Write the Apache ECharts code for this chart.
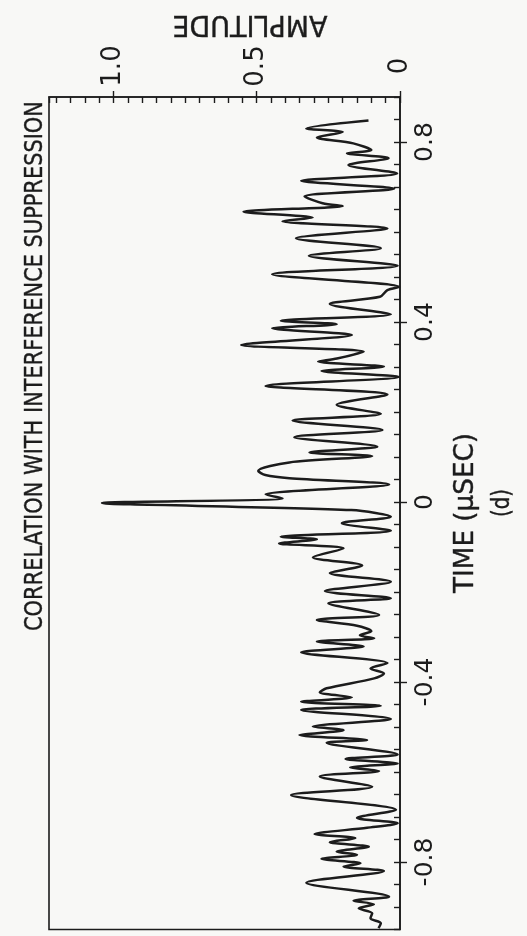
<!DOCTYPE html>
<html><head><meta charset="utf-8">
<script src="https://cdn.jsdelivr.net/npm/echarts@6/dist/echarts.min.js"></script>
<style>html,body{margin:0;padding:0;background:#f8f8f6;} #c{width:527px;height:936px;}</style>
</head><body><div id="c"></div>
<script>
// Time (µs), running from top of trace to bottom
const timeValues = [
  0.848, 0.830, 0.822, 0.810, 0.797, 0.782, 0.775, 0.764, 0.749, 0.730,
  0.714, 0.696, 0.679, 0.664, 0.658, 0.645, 0.632, 0.624, 0.608, 0.586,
  0.564, 0.547, 0.525, 0.506, 0.478, 0.471, 0.456, 0.440, 0.417, 0.403,
  0.395, 0.386, 0.371, 0.349, 0.334, 0.319, 0.312, 0.301, 0.291, 0.278,
  0.258, 0.239, 0.216, 0.196, 0.181, 0.160, 0.144, 0.123, 0.110, 0.102,
  0.088, 0.069, 0.060, 0.053, 0.039, 0.017, 0.008, -0.002, -0.018, -0.033,
  -0.047, -0.064, -0.077, -0.083, -0.092, -0.103, -0.123, -0.141, -0.158, -0.177,
  -0.198, -0.214, -0.225, -0.251, -0.262, -0.275, -0.287, -0.296, -0.303, -0.310,
  -0.321, -0.334, -0.358, -0.370, -0.381, -0.392, -0.414, -0.423, -0.434, -0.444,
  -0.453, -0.462, -0.482, -0.499, -0.507, -0.518, -0.529, -0.535, -0.561, -0.571,
  -0.581, -0.590, -0.598, -0.610, -0.633, -0.651, -0.684, -0.702, -0.714, -0.724,
  -0.738, -0.747, -0.756, -0.766, -0.777, -0.784, -0.793, -0.803, -0.810, -0.820,
  -0.846, -0.877, -0.886, -0.894, -0.903, -0.914, -0.925, -0.936, -0.947
];
// Amplitude at each time above
const amplitudeValues = [
  0.110, 0.327, 0.200, 0.290, 0.163, 0.100, 0.185, 0.040, 0.180, 0.010,
  0.345, 0.020, 0.333, 0.270, 0.200, 0.546, 0.305, 0.410, 0.044, 0.363,
  0.067, 0.318, 0.008, 0.446, 0.003, 0.044, 0.070, 0.245, 0.032, 0.416,
  0.221, 0.446, 0.168, 0.554, 0.127, 0.220, 0.286, 0.056, 0.274, 0.004,
  0.469, 0.044, 0.221, 0.067, 0.375, 0.061, 0.369, 0.079, 0.316, 0.097,
  0.386, 0.495, 0.470, 0.386, 0.038, 0.469, 0.410, 1.040, 0.170, 0.032,
  0.203, 0.032, 0.416, 0.290, 0.422, 0.197, 0.304, 0.132, 0.245, 0.032,
  0.262, 0.032, 0.250, 0.073, 0.290, 0.150, 0.100, 0.140, 0.090, 0.290,
  0.127, 0.345, 0.044, 0.103, 0.056, 0.090, 0.256, 0.280, 0.168, 0.345,
  0.067, 0.345, 0.032, 0.304, 0.197, 0.351, 0.115, 0.256, 0.008, 0.190,
  0.008, 0.174, 0.073, 0.280, 0.097, 0.380, 0.014, 0.150, 0.008, 0.115,
  0.298, 0.156, 0.245, 0.109, 0.221, 0.150, 0.274, 0.138, 0.197, 0.056,
  0.327, 0.038, 0.162, 0.091, 0.144, 0.097, 0.103, 0.067, 0.075
];
const timeTickLabels = [-0.8, -0.4, 0, 0.4, 0.8];
const amplitudeTickLabels = [0, 0.5, 1.0];
const titleText = 'CORRELATION WITH INTERFERENCE SUPPRESSION';
const amplitudeTitle = 'AMPLITUDE';
const timeTitle = 'TIME (μSEC)';
const panelTag = '(d)';

const FONT = 'DejaVu Sans';
const INK = '#1c1c1c';
const measureCtx = document.createElement('canvas').getContext('2d');
function fitScale(text, size, target) {
  measureCtx.font = size + 'px "' + FONT + '"';
  return target / measureCtx.measureText(text).width;
}
function rotText(text, x, y, size, rot, targetLen) {
  const s = fitScale(text, size, targetLen);
  return {
    type: 'text', x: x, y: y, rotation: rot, scaleX: s, scaleY: 1,
    style: { text: text, font: size + 'px "' + FONT + '"', fill: INK,
             stroke: INK, lineWidth: 0.4,
             align: 'center', verticalAlign: 'middle' }
  };
}

const pairs = timeValues.map((t, i) => [amplitudeValues[i], t]);
const fmt = v => (Math.abs(v) < 1e-9 ? '0' : v.toFixed(1));

const gridRect = { left: 49, right: 127, top: 97, bottom: 6.5 };
const axisLineStyle = { color: INK, width: 1.6 };
const tickStyle = { color: INK, width: 1.4 };
const AMAX = 1.225, TMIN = -0.95, TMAX = 0.9;

const chart = echarts.init(document.getElementById('c'), null, { renderer: 'canvas' });
chart.setOption({
  backgroundColor: '#f8f8f6',
  animation: false,
  grid: [
    Object.assign({ show: true, borderColor: INK, borderWidth: 1.6, containLabel: false }, gridRect),
    Object.assign({ show: false, containLabel: false }, gridRect)
  ],
  xAxis: [
    { type: 'value', gridIndex: 0, position: 'top', inverse: true, min: 0, max: AMAX, interval: 0.05,
      axisLine: { show: true, onZero: false, lineStyle: axisLineStyle },
      axisTick: { show: true, inside: true, length: 6, lineStyle: tickStyle },
      axisLabel: { show: false },
      splitLine: { show: false } },
    { type: 'value', gridIndex: 1, position: 'top', inverse: true, min: 0, max: AMAX,
      axisLine: { show: false, onZero: false },
      axisTick: { show: true, inside: false, length: 6, customValues: amplitudeTickLabels, lineStyle: tickStyle },
      axisLabel: { show: true, customValues: amplitudeTickLabels, formatter: fmt, rotate: -90,
                   align: 'center', verticalAlign: 'middle', margin: 31,
                   fontFamily: FONT, fontSize: 26, color: INK },
      splitLine: { show: false } }
  ],
  yAxis: [
    { type: 'value', gridIndex: 0, position: 'right', min: TMIN, max: TMAX, interval: 0.05,
      axisLine: { show: true, onZero: false, lineStyle: axisLineStyle },
      axisTick: { show: true, inside: true, length: 6, lineStyle: tickStyle },
      axisLabel: { show: false },
      splitLine: { show: false } },
    { type: 'value', gridIndex: 1, position: 'right', min: TMIN, max: TMAX,
      axisLine: { show: false, onZero: false },
      axisTick: { show: true, inside: false, length: 7, customValues: timeTickLabels, lineStyle: tickStyle },
      axisLabel: { show: true, customValues: timeTickLabels, formatter: fmt, rotate: 90,
                   align: 'center', verticalAlign: 'middle', margin: 25,
                   fontFamily: FONT, fontSize: 25, color: INK },
      splitLine: { show: false } }
  ],
  series: [{
    type: 'line', xAxisIndex: 0, yAxisIndex: 0, data: pairs,
    showSymbol: false, smooth: 0.3, clip: true,
    lineStyle: { color: INK, width: 2.5 }
  }],
  graphic: [
    rotText(titleText, 35, 366, 25, Math.PI / 2, 530),
    rotText(amplitudeTitle, 250, 24, 29, Math.PI, 155),
    rotText(timeTitle, 466, 513, 27, Math.PI / 2, 160),
    rotText(panelTag, 502, 503, 25, Math.PI / 2, 28)
  ]
});
</script>
</body></html>
